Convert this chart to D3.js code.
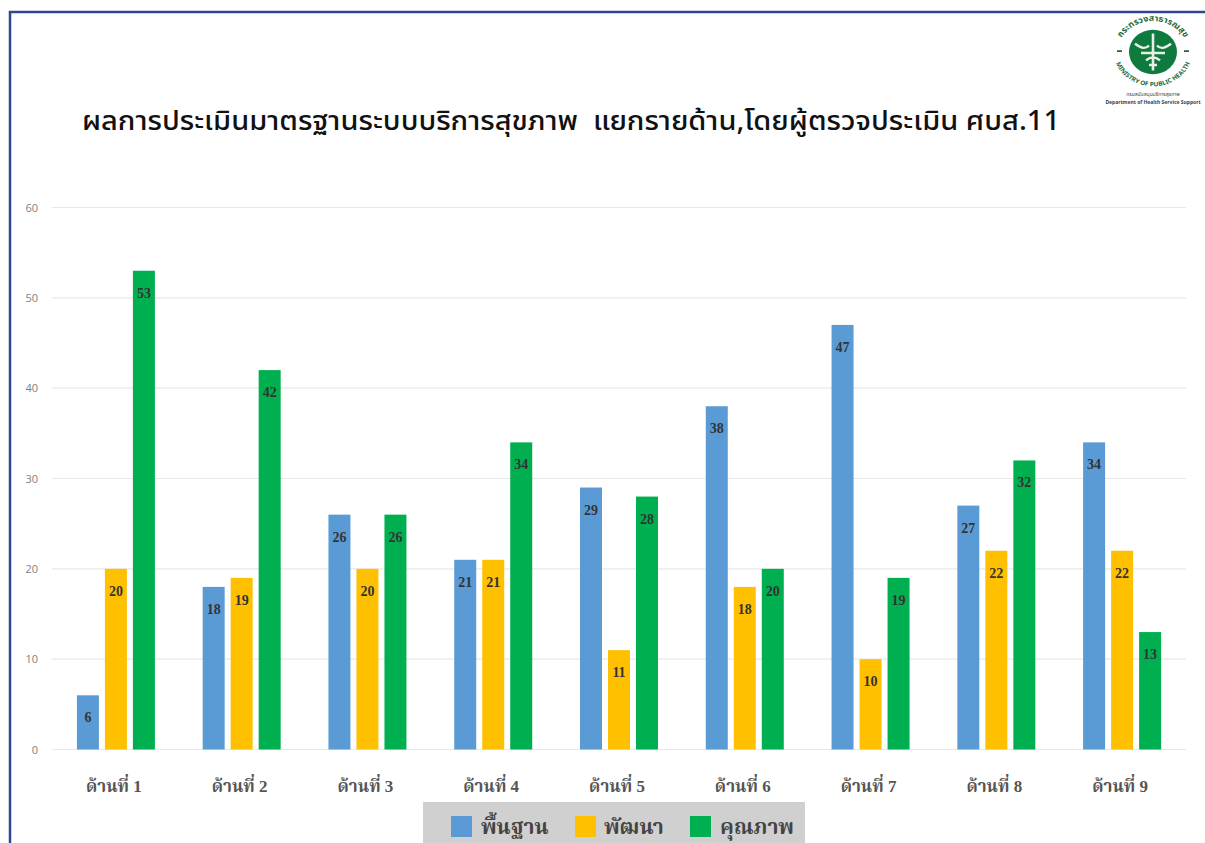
<!DOCTYPE html>
<html><head><meta charset="utf-8">
<script src="https://cdn.jsdelivr.net/npm/d3@7/dist/d3.min.js"></script>
<style>html,body{margin:0;padding:0;background:#fff;overflow:hidden}svg{display:block}</style>
</head><body><svg id="c" width="1205" height="843"></svg>
<script>
const categories=["ด้านที่ 1","ด้านที่ 2","ด้านที่ 3","ด้านที่ 4","ด้านที่ 5","ด้านที่ 6","ด้านที่ 7","ด้านที่ 8","ด้านที่ 9"];
const basic=[6,18,26,21,29,38,47,27,34];
const develop=[20,19,20,21,11,18,10,22,22];
const quality=[53,42,26,34,28,20,19,32,13];
const seriesNames=["พื้นฐาน","พัฒนา","คุณภาพ"];
const seriesColors=["#5b9bd5","#ffc000","#00b050"];
const yTicks=[0,10,20,30,40,50,60];
const titleText="ผลการประเมินมาตรฐานระบบบริการสุขภาพ  แยกรายด้าน,โดยผู้ตรวจประเมิน ศบส.11";
const serif="'Liberation Serif','Noto Serif Thai','Noto Sans Thai',serif";
const sans="'Noto Sans','Noto Sans Thai','Open Sans',sans-serif";
const allSeries=[basic,develop,quality];

const svg=d3.select("#c");
svg.append("path").attr("d","M10 843V12H1205").attr("fill","none").attr("stroke","#2a4a8f").attr("stroke-width",2.5);

const x=d3.scaleBand().domain(categories).range([52,1184]);
const xs=d3.scaleBand().domain([0,1,2]).range([0,78]).paddingInner(3-78/28).paddingOuter(0);
const y=d3.scaleLinear().domain([0,60]).range([749.5,207.5]);

svg.append("g").selectAll("line").data(yTicks).join("line")
 .attr("x1",52).attr("x2",1186).attr("y1",d=>y(d)).attr("y2",d=>y(d))
 .attr("stroke","#e8e8e8").attr("stroke-width",1.2);
const gy=svg.append("g").attr("transform","translate(52,0)").call(d3.axisLeft(y).tickValues(yTicks).tickSize(0).tickPadding(14));
gy.select(".domain").remove();
gy.selectAll("text").attr("font-family","'Open Sans',sans-serif").attr("font-size",11).attr("fill","#808080");

allSeries.forEach((vals,s)=>{
 const g=svg.append("g");
 const off=d=>x(d)+x.bandwidth()/2-39+xs(s)+1;
 g.selectAll("rect").data(categories).join("rect")
  .attr("x",off).attr("width",xs.bandwidth())
  .attr("y",(d,i)=>y(vals[i])).attr("height",(d,i)=>y(0)-y(vals[i]))
  .attr("fill",seriesColors[s]);
 g.selectAll("text").data(categories).join("text")
  .attr("x",d=>off(d)+xs.bandwidth()/2).attr("y",(d,i)=>y(vals[i])+27)
  .attr("text-anchor","middle").attr("font-family",serif).attr("font-weight","bold")
  .attr("font-size",14).attr("fill","#333").text((d,i)=>vals[i]);
});

svg.append("g").selectAll("text").data(categories).join("text")
 .attr("x",d=>x(d)+x.bandwidth()/2-1).attr("y",792)
 .attr("text-anchor","middle").attr("font-family",serif).attr("font-weight","bold")
 .attr("font-size",17).attr("fill","#555").text(d=>d);

svg.append("text").attr("x",82).attr("y",130).attr("font-family",sans).attr("font-size",27).attr("font-weight",500)
 .attr("fill","#111").style("white-space","pre").attr("textLength",978).attr("lengthAdjust","spacingAndGlyphs").text(titleText);

// legend
const lg=svg.append("g");
lg.append("rect").attr("x",423).attr("y",802).attr("width",382).attr("height",41).attr("fill","#d0d0d0");
const swX=[451,575,690], txtX=[481,604,720];
seriesNames.forEach((n,i)=>{
 lg.append("rect").attr("x",swX[i]).attr("y",816).attr("width",21).attr("height",21).attr("fill",seriesColors[i]);
 lg.append("text").attr("x",txtX[i]).attr("y",834).attr("font-family",serif).attr("font-weight","bold")
  .attr("font-size",21).attr("fill","#444").text(n);
});

// logo
const lo=svg.append("g").attr("transform","translate(1153,52) scale(1,0.925)");
lo.append("circle").attr("r",24).attr("fill","#0f7a3d");
lo.append("path").attr("d","M0-20V20M-18-9Q-9-1-4-7M18-9Q9-1 4-7M-12 1H12M-7 9Q0 3 7 9M-4 14H4").attr("stroke","#e8efe6").attr("stroke-width",2.6).attr("fill","none");
lo.append("path").attr("d","M-36 -1H-31M31 -1H36").attr("stroke","#1c6a40").attr("stroke-width",2).attr("fill","none");
const defs=svg.append("defs");
defs.append("path").attr("id","arcT").attr("d","M-35 -6A36 36 0 0 1 35 -6");
defs.append("path").attr("id","arcB").attr("d","M-39 6A40 40 0 0 0 39 6");
lo.append("text").attr("font-size",9).attr("font-weight","bold").attr("fill","#1c6a40").attr("font-family",sans)
 .append("textPath").attr("href","#arcT").attr("startOffset","50%").attr("text-anchor","middle").text("กระทรวงสาธารณสุข");
lo.append("text").attr("font-size",6.5).attr("font-weight","bold").attr("fill","#1c6a40").attr("font-family",sans)
 .append("textPath").attr("href","#arcB").attr("startOffset","50%").attr("text-anchor","middle").text("MINISTRY OF PUBLIC HEALTH");
svg.append("text").attr("x",1153).attr("y",96).attr("text-anchor","middle").attr("font-size",5).attr("fill","#444").attr("font-family",sans).text("กรมสนับสนุนบริการสุขภาพ");
svg.append("text").attr("x",1153).attr("y",104).attr("text-anchor","middle").attr("font-size",5).attr("font-weight","bold").attr("fill","#345").attr("font-family",sans).text("Department of Health Service Support");
</script></body></html>
